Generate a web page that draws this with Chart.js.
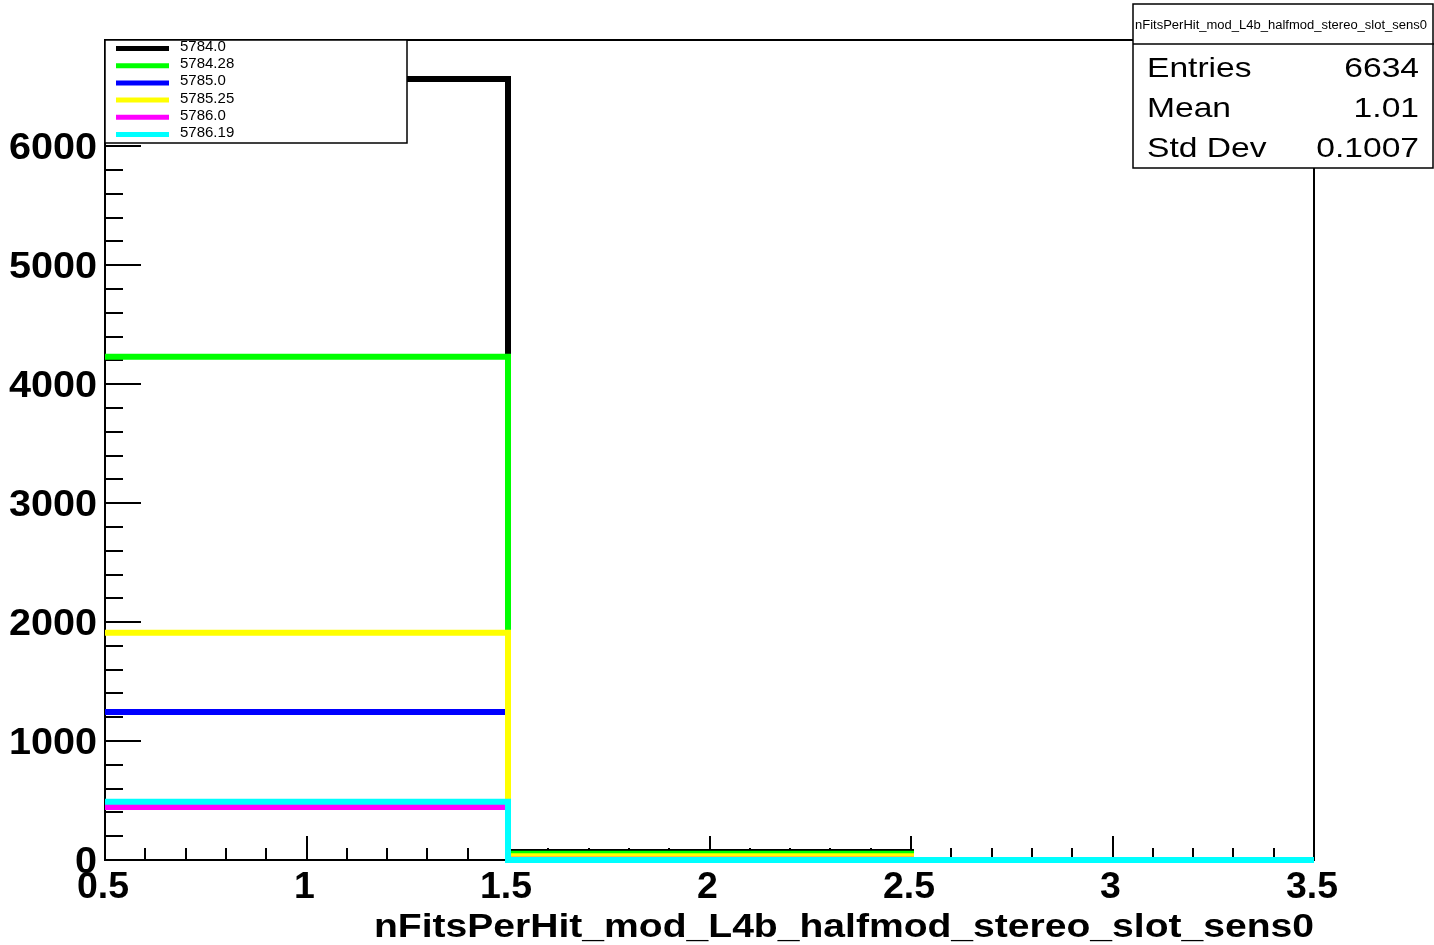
<!DOCTYPE html>
<html>
<head>
<meta charset="utf-8">
<title>nFitsPerHit_mod_L4b_halfmod_stereo_slot_sens0</title>
<script src="https://cdn.jsdelivr.net/npm/chart.js@4.4.0/dist/chart.umd.min.js"></script>
<style>
  html, body { margin: 0; padding: 0; background: #fff; }
  #wrap { width: 1434px; height: 945px; }
</style>
</head>
<body>
<div id="wrap"><canvas id="histo" width="1434" height="945"></canvas></div>
<script>
// histogram bin edges
const binEdges = [0.5, 1.5, 2.5, 3.5];

// one entry per run: legend label, line colour, counts per bin
const runLabels = ['5784.0', '5784.28', '5785.0', '5785.25', '5786.0', '5786.19'];
const runColors = ['#000000', '#00ff00', '#0000ff', '#ffff00', '#ff00ff', '#00ffff'];
const run5784_0  = [6566, 68, 0];
const run5784_28 = [4230, 53, 0];
const run5785_0  = [1245, 6, 0];
const run5785_25 = [1910, 32, 0];
const run5786_0  = [445, 3, 0];
const run5786_19 = [490, 0, 0];
const runCounts = [run5784_0, run5784_28, run5785_0, run5785_25, run5786_0, run5786_19];

// axis ticks
const xTicks = [0.5, 1, 1.5, 2, 2.5, 3, 3.5];
const yTicks = [0, 1000, 2000, 3000, 4000, 5000, 6000];
const yMax = 6894;

// stats box
const histName = 'nFitsPerHit_mod_L4b_halfmod_stereo_slot_sens0';
const statNames = ['Entries', 'Mean', 'Std Dev'];
const statValues = ['6634', '1.01', '0.1007'];

const tickFont = 'bold 36px "Liberation Sans", Arial, sans-serif';
const titleFont = 'bold 34px "Liberation Sans", Arial, sans-serif';
const statFont = '28px "Liberation Sans", Arial, sans-serif';
const legendFont = '15px "Liberation Sans", Arial, sans-serif';

// ROOT output is a bit stretched sideways, so text gets a horizontal scale
function stretchText(ctx, text, x, y, font, sx, align) {
  ctx.save();
  ctx.font = font;
  ctx.textAlign = align;
  ctx.textBaseline = 'alphabetic';
  ctx.translate(x, y);
  ctx.scale(sx, 1);
  ctx.fillText(text, 0, 0);
  ctx.restore();
}

// squeeze/stretch text to a given width
function fitText(ctx, text, x, y, font, width, align) {
  ctx.save();
  ctx.font = font;
  const w = ctx.measureText(text).width;
  ctx.restore();
  stretchText(ctx, text, x, y, font, width / w, align);
}

function stepPoints(counts) {
  const pts = counts.map((c, i) => ({ x: binEdges[i], y: c }));
  pts.push({ x: binEdges[binEdges.length - 1], y: counts[counts.length - 1] });
  return pts;
}

const rootFrame = {
  id: 'rootFrame',
  beforeDatasetsDraw(chart) {
    const { ctx, chartArea: a, scales: { x, y } } = chart;
    ctx.save();
    ctx.strokeStyle = '#000';
    ctx.lineWidth = 2;
    ctx.strokeRect(a.left, a.top, a.right - a.left, a.bottom - a.top);

    ctx.beginPath();
    for (let k = 0; k <= 30; k++) {
      const px = Math.round(x.getPixelForValue(0.5 + k * 0.1));
      const len = k % 5 === 0 ? 24 : 12;
      ctx.moveTo(px, a.bottom);
      ctx.lineTo(px, a.bottom - len);
    }
    for (let v = 0; v <= yMax; v += 200) {
      const py = Math.round(y.getPixelForValue(v));
      const len = v % 1000 === 0 ? 36 : 18;
      ctx.moveTo(a.left, py);
      ctx.lineTo(a.left + len, py);
    }
    ctx.stroke();

    ctx.fillStyle = '#000';
    xTicks.forEach(t => stretchText(ctx, String(t), x.getPixelForValue(t) - 2, 898, tickFont, 1.04, 'center'));
    yTicks.forEach(t => stretchText(ctx, String(t), 97, y.getPixelForValue(t) + 13, tickFont, 1.1, 'right'));
    ctx.restore();
  },
  afterDatasetsDraw(chart) {
    const { ctx, chartArea: a } = chart;
    ctx.save();

    // legend
    ctx.fillStyle = '#fff';
    ctx.fillRect(105, 40, 302, 103);
    ctx.fillStyle = '#000';
    runLabels.forEach((lab, i) => {
      const yb = 51 + i * 17.2;
      ctx.strokeStyle = runColors[i];
      ctx.lineWidth = 5;
      ctx.beginPath();
      ctx.moveTo(116, yb - 2.5);
      ctx.lineTo(169, yb - 2.5);
      ctx.stroke();
      stretchText(ctx, lab, 180, yb, legendFont, 1, 'left');
    });
    ctx.strokeStyle = '#000';
    ctx.lineWidth = 1.5;
    ctx.strokeRect(105, 40, 302, 103);

    // stats box
    ctx.fillStyle = '#fff';
    ctx.fillRect(1133, 4, 300, 164);
    ctx.strokeStyle = '#000';
    ctx.lineWidth = 1.5;
    ctx.strokeRect(1133, 4, 300, 164);
    ctx.beginPath();
    ctx.moveTo(1133, 44);
    ctx.lineTo(1434, 44);
    ctx.stroke();
    ctx.fillStyle = '#000';
    fitText(ctx, histName, 1281, 29, '12px "Liberation Sans", Arial, sans-serif', 292, 'center');
    statNames.forEach((n, i) => {
      const yb = 77 + i * 40;
      stretchText(ctx, n, 1147, yb, statFont, 1.2, 'left');
      stretchText(ctx, statValues[i], 1419, yb, statFont, 1.2, 'right');
    });

    // x axis title, right aligned to the frame
    fitText(ctx, histName, a.right, 937, titleFont, 940, 'right');
    ctx.restore();
  }
};

new Chart(document.getElementById('histo'), {
  type: 'line',
  data: {
    datasets: runCounts.map((counts, i) => ({
      label: runLabels[i],
      data: stepPoints(counts),
      borderColor: runColors[i],
      backgroundColor: runColors[i],
      borderWidth: 6,
      stepped: 'before',
      pointRadius: 0,
      fill: false,
      clip: false,
      order: runCounts.length - 1 - i
    }))
  },
  options: {
    responsive: false,
    animation: false,
    devicePixelRatio: 1,
    layout: { padding: { left: 105, right: 120, top: 40, bottom: 85 } },
    scales: {
      x: { type: 'linear', min: 0.5, max: 3.5, display: false },
      y: { type: 'linear', min: 0, max: yMax, display: false }
    },
    plugins: {
      legend: { display: false },
      tooltip: { enabled: false }
    }
  },
  plugins: [rootFrame]
});
</script>
</body>
</html>
